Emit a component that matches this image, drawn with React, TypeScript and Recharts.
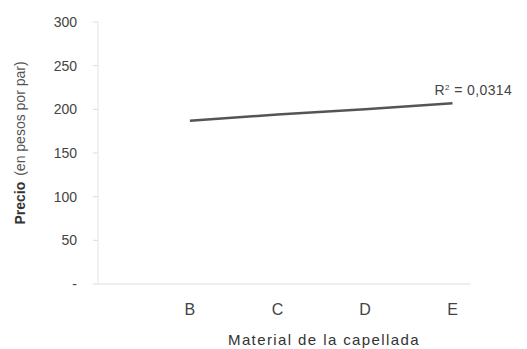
import { LineChart, Line, XAxis, YAxis, Label } from "recharts";

const categories = ["B", "C", "D", "E"];
const positions = [1, 2, 3, 4];
const trendValues = [187, 194, 200, 207];
const yTicks = [0, 50, 100, 150, 200, 250, 300];

const data = categories.map((c, i) => ({
  x: positions[i],
  name: c,
  trend: trendValues[i],
}));

const font = "'Liberation Sans', Arial, sans-serif";

function YTitle(props: any) {
  const vb = props.viewBox || {};
  const cy = vb.y + vb.height / 2 - 10;
  return (
    <text
      x={20}
      y={cy}
      transform={`rotate(-90, 20, ${cy})`}
      textAnchor="middle"
      dominantBaseline="central"
      fontFamily={font}
      fontSize={14}
      fill="#333"
    >
      <tspan fontWeight="bold">Precio</tspan>
      <tspan dx={6} fill="#555">(en pesos por par)</tspan>
    </text>
  );
}

function XTitle(props: any) {
  const vb = props.viewBox || {};
  return (
    <text
      x={vb.x + vb.width / 2 + 40}
      y={345}
      textAnchor="middle"
      fontFamily={font}
      fontSize={15}
      letterSpacing={1.4}
      fill="#333"
    >
      Material de la capellada
    </text>
  );
}

function EndLabel(props: any) {
  const { x, y, index } = props;
  if (index !== data.length - 1) return null;
  return (
    <text x={x - 18} y={y - 8} fontFamily={font} fontSize={14} fill="#444" letterSpacing={0.4}>
      R<tspan dy={-5} fontSize={8}>2</tspan>
      <tspan dy={5}> = 0,0314</tspan>
    </text>
  );
}

export default function App() {
  return (
    <div style={{ position: "absolute", left: 0, top: 0, background: "#fff" }}>
      <LineChart
        width={527}
        height={349}
        data={data}
        margin={{ top: 22, right: 57, bottom: 10, left: 0 }}
      >
        <XAxis
          dataKey="x"
          type="number"
          domain={[-0.05, 4.2]}
          ticks={positions}
          tickFormatter={(v: number) => categories[positions.indexOf(v)] ?? ""}
          tick={{ fontSize: 16, fill: "#444", fontFamily: font }}
          tickLine={false}
          tickMargin={14}
          axisLine={{ stroke: "#ddd" }}
          height={55}
        >
          <Label content={<XTitle />} />
        </XAxis>
        <YAxis
          domain={[0, 300]}
          ticks={yTicks}
          tickFormatter={(v: number) => (v === 0 ? "-" : String(v))}
          tick={{ fontSize: 14, fill: "#444", fontFamily: font }}
          tickSize={5}
          tickMargin={16}
          tickLine={{ stroke: "#ddd" }}
          axisLine={{ stroke: "#e3e3e3" }}
          width={98}
        >
          <Label content={<YTitle />} />
        </YAxis>
        <Line
          dataKey="trend"
          type="linear"
          stroke="#555"
          strokeWidth={2.5}
          dot={false}
          isAnimationActive={false}
          label={<EndLabel />}
        />
      </LineChart>
    </div>
  );
}
